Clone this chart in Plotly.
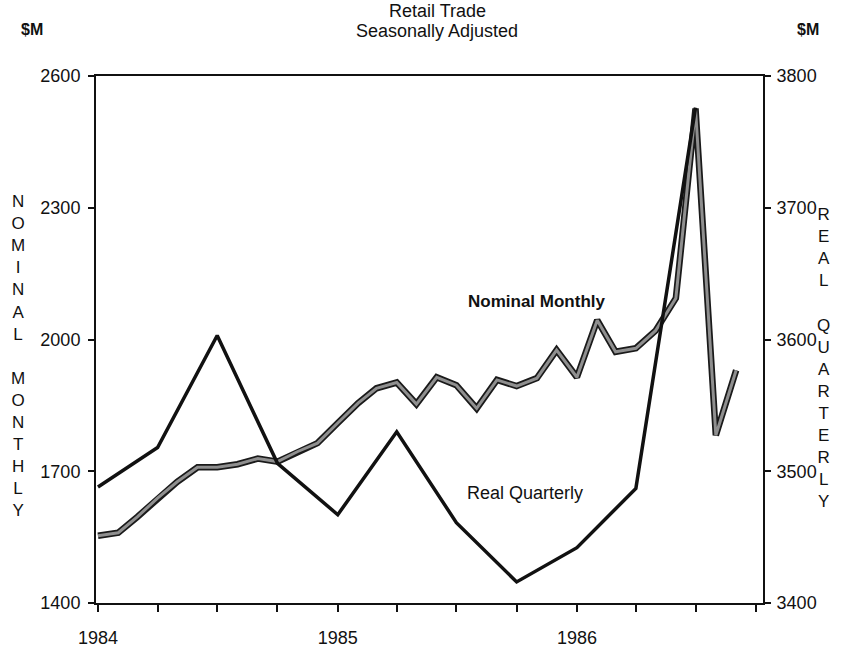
import plotly.graph_objects as go
import pandas as pd

# ---- data ----
nominal_monthly = [1553, 1560, 1596, 1639, 1676, 1709, 1709, 1716, 1729, 1722, 1745, 1764,
                   1810, 1855, 1889, 1902, 1853, 1914, 1896, 1843, 1908, 1894, 1912, 1976,
                   1914, 2044, 1972, 1980, 2020, 2094, 2526, 1782, 1930]
real_quarterly = [3488, 3518, 3603, 3506, 3467, 3530, 3461, 3416, 3442, 3487, 3776]
month_dates = pd.date_range("1984-01-01", periods=len(nominal_monthly), freq="MS")
quarter_dates = pd.date_range("1984-01-01", periods=len(real_quarterly), freq="QS")
tick_dates = pd.date_range("1984-01-01", "1986-10-01", freq="QS")
tick_text = [str(d.year) if d.month == 1 else "" for d in tick_dates]
left_ticks = [1400, 1700, 2000, 2300, 2600]
right_ticks = [3400, 3500, 3600, 3700, 3800]

FONT = "Liberation Sans, Arial, sans-serif"
W, H = 853, 654
ML, MR, MT, MB = 96, 90, 76, 51

fig = go.Figure()
# Nominal monthly: outlined grey line
fig.add_trace(go.Scatter(x=month_dates, y=nominal_monthly, mode="lines",
                         line=dict(color="#1a1a1a", width=6.5), yaxis="y",
                         showlegend=False, hoverinfo="skip"))
fig.add_trace(go.Scatter(x=month_dates, y=nominal_monthly, mode="lines",
                         line=dict(color="#8f8f8f", width=3), yaxis="y",
                         name="Nominal Monthly", showlegend=False))
# Real quarterly: black line
fig.add_trace(go.Scatter(x=quarter_dates, y=real_quarterly, mode="lines",
                         line=dict(color="#111111", width=3.5), yaxis="y2",
                         name="Real Quarterly", showlegend=False))

fig.update_layout(
    width=W, height=H,
    margin=dict(l=ML, r=MR, t=MT, b=MB, autoexpand=False),
    paper_bgcolor="white", plot_bgcolor="white",
    font=dict(family=FONT, size=18, color="#111111"),
    xaxis=dict(range=["1983-12-29", "1986-10-12"], tickvals=tick_dates, ticktext=tick_text,
               showgrid=False, zeroline=False, showline=True, linecolor="#111111",
               linewidth=2, mirror=True, ticks="outside", ticklen=7, tickwidth=2,
               tickcolor="#111111", ticklabelstandoff=10, automargin=False,
               tickfont=dict(family=FONT, size=18)),
    yaxis=dict(range=[1400, 2600], tickvals=left_ticks, showgrid=False, zeroline=False,
               showline=True, linecolor="#111111", linewidth=2, ticks="outside",
               ticklen=6, tickwidth=2, tickcolor="#111111", ticklabelstandoff=4,
               automargin=False, tickfont=dict(family=FONT, size=18)),
    yaxis2=dict(range=[3400, 3800], tickvals=right_ticks, overlaying="y", side="right",
                showgrid=False, zeroline=False, showline=True, linecolor="#111111",
                linewidth=2, ticks="outside", ticklen=6, tickwidth=2, tickcolor="#111111",
                ticklabelstandoff=2, automargin=False, tickfont=dict(family=FONT, size=18)),
)

left_title = "<br>".join(list("NOMINAL")) + "<br> <br>" + "<br>".join(list("MONTHLY"))
right_title = "<br>".join(list("REAL")) + "<br> <br>" + "<br>".join(list("QUARTERLY"))

# (text, screen x, screen y, font size)
annotations = [
    dict(text="Retail Trade", x=437, y=11, font=dict(size=18)),
    dict(text="Seasonally Adjusted", x=437, y=31, font=dict(size=18)),
    dict(text="<b>$M</b>", x=32, y=30, font=dict(size=16)),
    dict(text="<b>$M</b>", x=808, y=30, font=dict(size=16)),
    dict(text=left_title, x=18, y=356, font=dict(size=17)),
    dict(text=right_title, x=824, y=358, font=dict(size=17)),
    dict(text="<b>Nominal Monthly</b>", x=536, y=301, font=dict(size=17)),
    dict(text="Real Quarterly", x=525, y=493, font=dict(size=18)),
]
for a in annotations:
    px, py = a.pop("x"), a.pop("y")
    fig.add_annotation(xref="paper", yref="paper",
                       x=(px - ML) / (W - ML - MR), y=((H - py) - MB) / (H - MT - MB),
                       xanchor="center", yanchor="middle", showarrow=False,
                       align="center", **a)

fig.write_html("out.html", config={"displayModeBar": False},
               post_script="document.body.style.margin='0';")
